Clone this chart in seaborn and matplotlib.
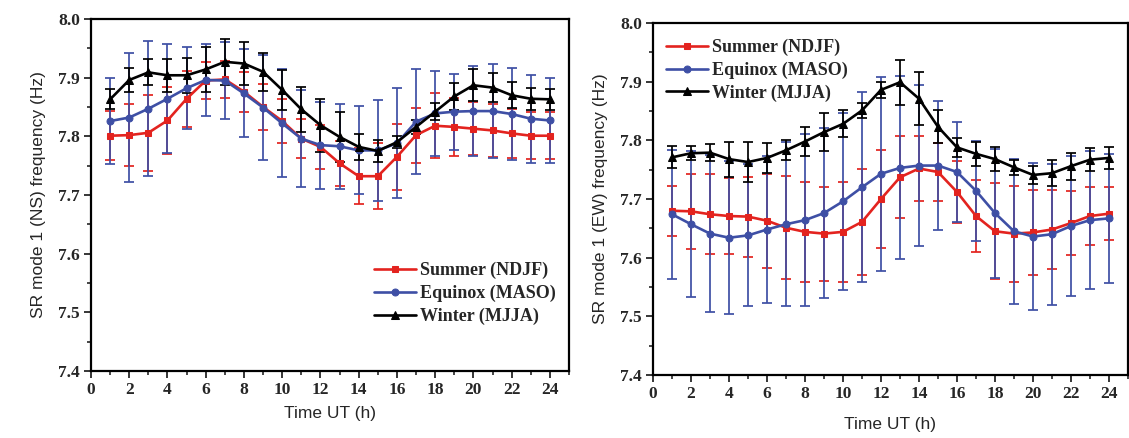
import numpy as np
import pandas as pd
import matplotlib
matplotlib.use("Agg")
import matplotlib.pyplot as plt
import seaborn as sns
from matplotlib.ticker import MultipleLocator

hours = list(range(1, 25))
series_names = ["Summer (NDJF)", "Equinox (MASO)", "Winter (MJJA)"]

ns_summer = [7.801, 7.802, 7.806, 7.827, 7.864, 7.895, 7.897, 7.876, 7.850, 7.826, 7.796, 7.782,
             7.754, 7.732, 7.732, 7.765, 7.802, 7.818, 7.816, 7.813, 7.810, 7.805, 7.801, 7.801]
ns_summer_err = [0.042, 0.053, 0.065, 0.057, 0.048, 0.032, 0.031, 0.034, 0.039, 0.037, 0.033, 0.037,
                 0.038, 0.048, 0.056, 0.056, 0.047, 0.055, 0.050, 0.045, 0.045, 0.042, 0.040, 0.040]
ns_equinox = [7.826, 7.832, 7.847, 7.864, 7.882, 7.896, 7.895, 7.873, 7.849, 7.822, 7.796, 7.785,
              7.783, 7.776, 7.776, 7.788, 7.825, 7.839, 7.842, 7.843, 7.843, 7.838, 7.830, 7.827]
ns_equinox_err = [0.073, 0.110, 0.115, 0.093, 0.070, 0.062, 0.065, 0.075, 0.090, 0.092, 0.083, 0.074,
                  0.072, 0.075, 0.086, 0.094, 0.090, 0.073, 0.065, 0.077, 0.080, 0.078, 0.075, 0.073]
ns_winter = [7.863, 7.896, 7.909, 7.904, 7.904, 7.914, 7.927, 7.924, 7.910, 7.879, 7.846, 7.819,
             7.799, 7.782, 7.775, 7.790, 7.816, 7.842, 7.868, 7.887, 7.883, 7.870, 7.864, 7.863]
ns_winter_err = [0.017, 0.020, 0.022, 0.028, 0.030, 0.038, 0.039, 0.037, 0.032, 0.034, 0.038, 0.045,
                 0.042, 0.022, 0.018, 0.010, 0.012, 0.014, 0.023, 0.027, 0.025, 0.022, 0.019, 0.018]

ew_summer = [7.680, 7.679, 7.674, 7.671, 7.670, 7.663, 7.651, 7.644, 7.641, 7.644, 7.661, 7.700,
             7.737, 7.752, 7.746, 7.712, 7.671, 7.645, 7.641, 7.643, 7.648, 7.659, 7.671, 7.675]
ew_summer_err = [0.043, 0.064, 0.068, 0.065, 0.068, 0.080, 0.088, 0.085, 0.080, 0.085, 0.090, 0.084,
                 0.070, 0.055, 0.050, 0.053, 0.062, 0.082, 0.082, 0.073, 0.067, 0.055, 0.049, 0.045]
ew_equinox = [7.674, 7.657, 7.641, 7.634, 7.638, 7.648, 7.657, 7.664, 7.676, 7.696, 7.720, 7.743,
              7.753, 7.757, 7.757, 7.746, 7.714, 7.676, 7.645, 7.636, 7.640, 7.654, 7.664, 7.667]
ew_equinox_err = [0.110, 0.124, 0.134, 0.130, 0.121, 0.125, 0.140, 0.147, 0.145, 0.151, 0.162, 0.165,
                  0.156, 0.137, 0.110, 0.085, 0.085, 0.110, 0.124, 0.125, 0.120, 0.119, 0.117, 0.110]
ew_winter = [7.771, 7.778, 7.779, 7.768, 7.763, 7.770, 7.783, 7.798, 7.814, 7.828, 7.851, 7.886,
             7.899, 7.871, 7.823, 7.788, 7.777, 7.768, 7.754, 7.741, 7.744, 7.756, 7.767, 7.770]
ew_winter_err = [0.019, 0.012, 0.015, 0.030, 0.034, 0.025, 0.017, 0.025, 0.032, 0.023, 0.013, 0.013,
                 0.038, 0.045, 0.028, 0.016, 0.020, 0.021, 0.013, 0.015, 0.022, 0.023, 0.020, 0.019]

x_ticks = list(range(0, 25, 2))
y_ticks = [7.4, 7.5, 7.6, 7.7, 7.8, 7.9, 8.0]

sns.set_theme(style="ticks")
plt.rcParams['font.family'] = ['Liberation Serif', 'DejaVu Serif']

colors = ["#e3231f", "#3e4fa5", "#000000"]
markers = ["s", "o", "^"]
msizes = [5, 5, 6]

fig = plt.figure(figsize=(11.29, 4.38), dpi=100)
ax1 = fig.add_axes([0.0806, 0.153, 0.4234, 0.8037])
ax2 = fig.add_axes([0.5784, 0.1438, 0.4207, 0.8037])

panels = [
    (ax1, [ns_summer, ns_equinox, ns_winter], [ns_summer_err, ns_equinox_err, ns_winter_err],
     "SR mode 1 (NS) frequency (Hz)", "lower right", (0.995, 0.10), 5.5),
    (ax2, [ew_summer, ew_equinox, ew_winter], [ew_summer_err, ew_equinox_err, ew_winter_err],
     "SR mode 1 (EW) frequency (Hz)", "upper left", (0.005, 0.985), 11),
]

for ax, vals, errs, ylab, loc, anchor, xpad in panels:
    for name, v, e, c, m, ms in zip(series_names, vals, errs, colors, markers, msizes):
        ax.errorbar(hours, v, yerr=e, fmt="none", ecolor=c, elinewidth=1.25,
                    capsize=3.6, capthick=1.25, zorder=2)
        df = pd.DataFrame({"hour": hours, "freq": v})
        sns.lineplot(data=df, x="hour", y="freq", ax=ax, color=c, marker=m,
                     markersize=ms, markeredgecolor=c, linewidth=1.9, label=name, zorder=3)
    ax.set_xlim(0, 25)
    ax.set_ylim(7.4, 8.0)
    ax.set_xticks(x_ticks)
    ax.set_yticks(y_ticks)
    ax.set_yticklabels([f"{t:.1f}" for t in y_ticks])
    ax.xaxis.set_minor_locator(MultipleLocator(1))
    ax.yaxis.set_minor_locator(MultipleLocator(0.05))
    ax.tick_params(which="major", direction="out", length=5, width=1.3, labelsize=12.5, pad=3)
    ax.tick_params(which="minor", direction="out", length=3, width=1.2)
    for lbl in ax.get_xticklabels() + ax.get_yticklabels():
        lbl.set_fontweight("bold")
    for s in ax.spines.values():
        s.set_linewidth(1.6)
        s.set_color("black")
    ax.set_xlabel("Time UT (h)", family="Liberation Sans", fontsize=12.5, labelpad=xpad)
    ax.set_ylabel(ylab, family="Liberation Sans", fontsize=12.5, labelpad=9)
    leg = ax.legend(loc=loc, bbox_to_anchor=anchor, frameon=False,
                    prop={"family": "Liberation Serif", "weight": "bold", "size": 13},
                    handlelength=2.3, handletextpad=0.25, labelspacing=0.3, borderaxespad=0.2)

fig.savefig("out.png", dpi=100, facecolor="white")
